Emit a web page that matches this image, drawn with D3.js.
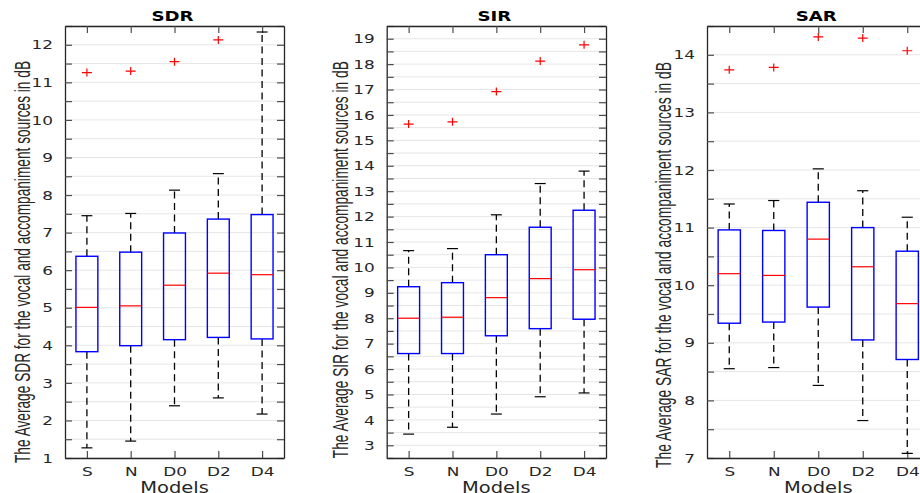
<!DOCTYPE html>
<html>
<head>
<meta charset="utf-8">
<script src="https://cdn.jsdelivr.net/npm/d3@7"></script>
<style>
  body { margin: 0; background: #fff; }
  svg { display: block; }
</style>
</head>
<body>
<div class="chart"></div>
<script>
// box plot data
const models = ["S", "N", "D0", "D2", "D4"];

const sdrLow     = [1.27, 1.45, 2.39, 2.60, 2.17];
const sdrQ1      = [3.83, 3.99, 4.15, 4.21, 4.17];
const sdrMedian  = [5.01, 5.05, 5.60, 5.92, 5.88];
const sdrQ3      = [6.37, 6.48, 6.99, 7.36, 7.48];
const sdrHigh    = [7.45, 7.51, 8.13, 8.57, 12.34];
const sdrOutlier = [11.26, 11.30, 11.55, 12.13, null];

const sirLow     = [3.44, 3.71, 4.23, 4.91, 5.06];
const sirQ1      = [6.61, 6.61, 7.31, 7.59, 7.96];
const sirMedian  = [8.00, 8.04, 8.81, 9.56, 9.91];
const sirQ3      = [9.24, 9.40, 10.50, 11.58, 12.25];
const sirHigh    = [10.66, 10.74, 12.07, 13.30, 13.79];
const sirOutlier = [15.64, 15.73, 16.92, 18.12, 18.76];

const sarLow     = [8.55, 8.57, 8.26, 7.65, 7.08];
const sarQ1      = [9.34, 9.36, 9.62, 9.05, 8.71];
const sarMedian  = [10.20, 10.17, 10.80, 10.32, 9.68];
const sarQ3      = [10.96, 10.95, 11.44, 11.00, 10.59];
const sarHigh    = [11.41, 11.47, 12.02, 11.64, 11.18];
const sarOutlier = [13.74, 13.78, 14.31, 14.29, 14.07];

const sdrDomain = [1, 12.5];
const sirDomain = [2.5, 19.5];
const sarDomain = [7, 14.5];

const SX = 1.3;   // the picture is stretched sideways, so is the text
const plotTop = 26, plotBottom = 458;
const ink = "#262626";

const svg = d3.select(".chart")
              .append("svg")
              .attr("width", 920)
              .attr("height", 493);

function drawPanel(p) {
  const x = d3.scaleLinear().domain([0.5, 5.5]).range([p.left, p.right]);
  const y = d3.scaleLinear().domain(p.domain).range([plotBottom, plotTop]);
  const halfSteps = d3.range(p.domain[0], p.domain[1] + 0.001, 0.5);
  const g = svg.append("g");

  // grid at every half unit
  g.selectAll(".grid")
   .data(halfSteps).enter()
   .append("line")
   .attr("x1", p.left).attr("x2", p.right)
   .attr("y1", d => y(d)).attr("y2", d => y(d))
   .attr("stroke", "#e6e6e6")
   .attr("stroke-width", 1);

  // axes, ticks pointing inward
  const yAxis = g.append("g")
                 .attr("transform", "translate(" + p.left + ",0)")
                 .call(d3.axisLeft(y).tickValues(halfSteps).tickSize(-7).tickSizeOuter(0)
                         .tickPadding(12).tickFormat(d => Number.isInteger(d) ? d : ""));
  g.append("g")
   .attr("transform", "translate(" + p.right + ",0)")
   .call(d3.axisRight(y).tickValues(halfSteps).tickSize(-7).tickSizeOuter(0).tickFormat(""));
  g.append("g")
   .attr("transform", "translate(0," + plotTop + ")")
   .call(d3.axisTop(x).tickValues([1, 2, 3, 4, 5]).tickSize(-7).tickSizeOuter(0).tickFormat(""));
  const xAxis = g.append("g")
                 .attr("transform", "translate(0," + plotBottom + ")")
                 .call(d3.axisBottom(x).tickValues([1, 2, 3, 4, 5]).tickSize(-7).tickSizeOuter(0)
                         .tickPadding(9).tickFormat(i => models[i - 1]));

  g.selectAll(".domain").attr("stroke", ink).attr("stroke-width", 1.3);
  g.selectAll(".tick line").attr("stroke", "#4d4d4d").attr("stroke-width", 1.2);

  yAxis.selectAll(".tick text")
       .attr("x", -12 / SX)
       .attr("transform", "scale(" + SX + ",1)")
       .attr("fill", ink)
       .style("font-family", "DejaVu Sans")
       .style("font-size", "13px");
  xAxis.selectAll(".tick text")
       .attr("transform", "scale(" + SX + ",1)")
       .attr("fill", ink)
       .style("font-family", "DejaVu Sans")
       .style("font-size", "13px");

  // boxes
  const idx = d3.range(models.length);
  const bw = x(1.25) - x(0.75);
  const cx = i => x(i + 1);

  g.selectAll(".whiskUp").data(idx).enter().append("line")
   .attr("x1", cx).attr("x2", cx)
   .attr("y1", i => y(p.q3[i])).attr("y2", i => y(p.high[i]))
   .attr("stroke", "#000").attr("stroke-width", 1.3).attr("stroke-dasharray", "7,4.5");
  g.selectAll(".whiskDown").data(idx).enter().append("line")
   .attr("x1", cx).attr("x2", cx)
   .attr("y1", i => y(p.q1[i])).attr("y2", i => y(p.low[i]))
   .attr("stroke", "#000").attr("stroke-width", 1.3).attr("stroke-dasharray", "7,4.5");

  [p.high, p.low].forEach(arr => {
    g.selectAll(null).data(idx).enter().append("line")
     .attr("x1", i => cx(i) - bw / 4).attr("x2", i => cx(i) + bw / 4)
     .attr("y1", i => y(arr[i])).attr("y2", i => y(arr[i]))
     .attr("stroke", "#000").attr("stroke-width", 1.2);
  });

  g.selectAll(".box").data(idx).enter().append("rect")
   .attr("x", i => cx(i) - bw / 2)
   .attr("y", i => y(p.q3[i]))
   .attr("width", bw)
   .attr("height", i => y(p.q1[i]) - y(p.q3[i]))
   .attr("fill", "none")
   .attr("stroke", "#0000ff")
   .attr("stroke-width", 1.4);

  g.selectAll(".median").data(idx).enter().append("line")
   .attr("x1", i => cx(i) - bw / 2).attr("x2", i => cx(i) + bw / 2)
   .attr("y1", i => y(p.median[i])).attr("y2", i => y(p.median[i]))
   .attr("stroke", "#ff0000").attr("stroke-width", 1.2);

  g.selectAll(".outlier").data(idx.filter(i => p.outlier[i] != null)).enter().append("path")
   .attr("d", i => {
     const px = cx(i), py = y(p.outlier[i]);
     return "M" + (px - 5) + "," + py + "H" + (px + 5) + "M" + px + "," + (py - 4) + "V" + (py + 4);
   })
   .attr("stroke", "#ff0000").attr("stroke-width", 1.2).attr("fill", "none");

  // texts
  const mid = (p.left + p.right) / 2;
  g.append("text")
   .text(p.title)
   .attr("text-anchor", "middle")
   .attr("transform", "translate(" + (mid - 2) + ",20.7) scale(" + SX + ",1)")
   .attr("fill", "#000")
   .style("font-family", "DejaVu Sans")
   .style("font-weight", "bold")
   .style("font-size", "14px");

  g.append("text")
   .text("Models")
   .attr("text-anchor", "middle")
   .attr("transform", "translate(" + mid + ",492.5) scale(" + SX + ",1)")
   .attr("fill", ink)
   .style("font-family", "DejaVu Sans")
   .style("font-size", "15px");

  g.append("text")
   .text("The Average " + p.title + " for the vocal and accompaniment sources in dB")
   .attr("text-anchor", "middle")
   .attr("textLength", p.labelLen)
   .attr("lengthAdjust", "spacingAndGlyphs")
   .attr("transform", "translate(" + p.labelX + "," + p.labelY + ") scale(" + SX + ",1) rotate(-90)")
   .attr("fill", ink)
   .style("font-family", "'Liberation Sans Narrow', 'Liberation Sans', sans-serif")
   .style("font-size", "16.5px");
}

drawPanel({ title: "SDR", left: 65, right: 284, domain: sdrDomain,
            low: sdrLow, q1: sdrQ1, median: sdrMedian, q3: sdrQ3, high: sdrHigh, outlier: sdrOutlier,
            labelX: 29.5, labelY: 262, labelLen: 402 });
drawPanel({ title: "SIR", left: 386.7, right: 606, domain: sirDomain,
            low: sirLow, q1: sirQ1, median: sirMedian, q3: sirQ3, high: sirHigh, outlier: sirOutlier,
            labelX: 348, labelY: 259.7, labelLen: 397 });
drawPanel({ title: "SAR", left: 707, right: 929.5, domain: sarDomain,
            low: sarLow, q1: sarQ1, median: sarMedian, q3: sarQ3, high: sarHigh, outlier: sarOutlier,
            labelX: 670.5, labelY: 265, labelLen: 406 });
</script>
</body>
</html>
